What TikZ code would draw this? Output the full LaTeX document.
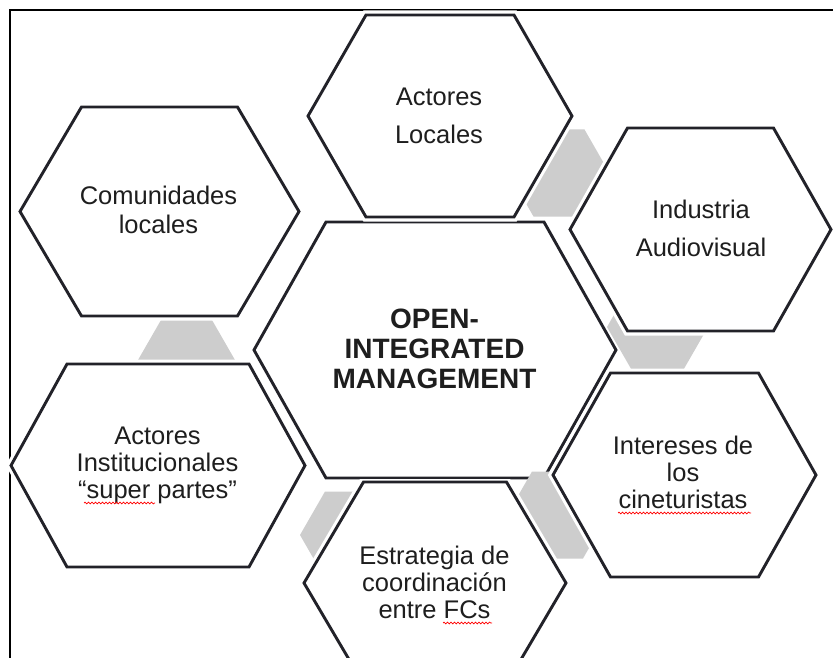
\documentclass[tikz,border=0pt]{standalone}
\usepackage{fontspec}
\setmainfont{Liberation Sans}
\usetikzlibrary{decorations.pathmorphing}
\definecolor{hexline}{HTML}{222229}
\definecolor{hexgray}{HTML}{CDCDCD}
\definecolor{txt}{HTML}{1E1E1E}
\begin{document}
\begin{tikzpicture}[x=1pt,y=-1pt,
  hexw/.style={draw=hexline, line width=2.9pt, line join=miter, fill=white,
               preaction={draw=white, line width=9pt}},
  hexg/.style={fill=hexgray},
  frameline/.style={draw=black, line width=2pt},
  seam/.style={draw=hexline, line width=2.9pt},
  lblA/.style={align=center, text=txt, inner sep=0pt, font=\fontsize{25.5}{38}\selectfont},
  lblB/.style={align=center, text=txt, inner sep=0pt, font=\fontsize{25.5}{29}\selectfont},
  lblC/.style={align=center, text=txt, inner sep=0pt, font=\fontsize{25.5}{27}\selectfont},
  lblM/.style={align=center, text=txt, inner sep=0pt, font=\fontsize{28}{30}\selectfont\bfseries},
  squig/.style={draw=red, line width=0.7pt, decorate,
                decoration={snake, amplitude=0.9pt, segment length=3.5pt}}]
\useasboundingbox (0,0) rectangle (833,658);
\clip (0,0) rectangle (833,658);

% frame
\coordinate (fbl) at (10,660);
\coordinate (ftl) at (10,10);
\coordinate (ftr) at (835,10);
\draw[frameline] (fbl) -- (ftl) -- (ftr);

% centres
\coordinate (cC) at (435,350);
\coordinate (cAL) at (440,116);
\coordinate (cCL) at (159.5,211.5);
\coordinate (cIA) at (700.5,229.5);
\coordinate (cAI) at (158,465.5);
\coordinate (cIC) at (684.5,475);
\coordinate (cEF) at (435,583);

% central hexagon
\draw[hexw, shift={(cC)}] (-181,0) -- (-109,-128) -- (109,-128) -- (181,0) -- (109,128) -- (-109,128) -- cycle;

% grey connector hexagons
\foreach \gx/\gy in {559/173, 657.5/327, 557.5/515, 350.5/535, 186.5/363.5}
  \fill[hexg, shift={(\gx,\gy)}] (-50.5,0) -- (-25.5,-43.5) -- (25.5,-43.5) -- (50.5,0) -- (25.5,43.5) -- (-25.5,43.5) -- cycle;

% outer hexagons
\draw[hexw, shift={(cAL)}] (-132,0) -- (-74,-101) -- (74,-101) -- (132,0) -- (74,101) -- (-74,101) -- cycle;
\draw[hexw, shift={(cCL)}] (-139.5,0) -- (-78,-104.5) -- (78,-104.5) -- (139.5,0) -- (78,104.5) -- (-78,104.5) -- cycle;
\draw[hexw, shift={(cIA)}] (-130.5,0) -- (-73,-101.5) -- (73,-101.5) -- (130.5,0) -- (73,101.5) -- (-73,101.5) -- cycle;
\draw[hexw, shift={(cAI)}] (-147,0) -- (-91,-101.5) -- (91,-101.5) -- (147,0) -- (91,101.5) -- (-91,101.5) -- cycle;
\draw[hexw, shift={(cIC)}] (-131.5,0) -- (-74,-102) -- (74,-102) -- (131.5,0) -- (74,102) -- (-74,102) -- cycle;
\draw[hexw, shift={(cEF)}] (-131,0) -- (-71.5,-101) -- (71.5,-101) -- (131,0) -- (71.5,101) -- (-71.5,101) -- cycle;

% seam where the central hexagon meets the lower one
\coordinate (sl) at (326,478);
\coordinate (sr) at (524,478);
\draw[seam] (sl) -- (sr);

% labels
\node[lblA] (al) at (439,115.5) {Actores\\Locales};
\node[lblB] (cl) at (158.5,210) {Comunidades\\locales};
\node[lblA] (ia) at (701,228.5) {Industria\\Audiovisual};
\node[lblM] (ctr) at (434.5,348.5) {OPEN-\\INTEGRATED\\MANAGEMENT};
\node[lblC] (ai) at (157.5,465) {Actores\\Institucionales\\“super partes”};
\node[lblC] (ic) at (683,472.5) {Intereses de\\los\\cineturistas};
\node[lblC] (ef) at (434.5,582.5) {Estrategia de\\coordinación\\entre FCs};

% spell-check underlines
\coordinate (q1a) at (84,503);  \coordinate (q1b) at (155,503);
\coordinate (q2a) at (618,513); \coordinate (q2b) at (751,513);
\coordinate (q3a) at (443,623); \coordinate (q3b) at (492,623);
\draw[squig] (q1a) -- (q1b);
\draw[squig] (q2a) -- (q2b);
\draw[squig] (q3a) -- (q3b);
\end{tikzpicture}
\end{document}
